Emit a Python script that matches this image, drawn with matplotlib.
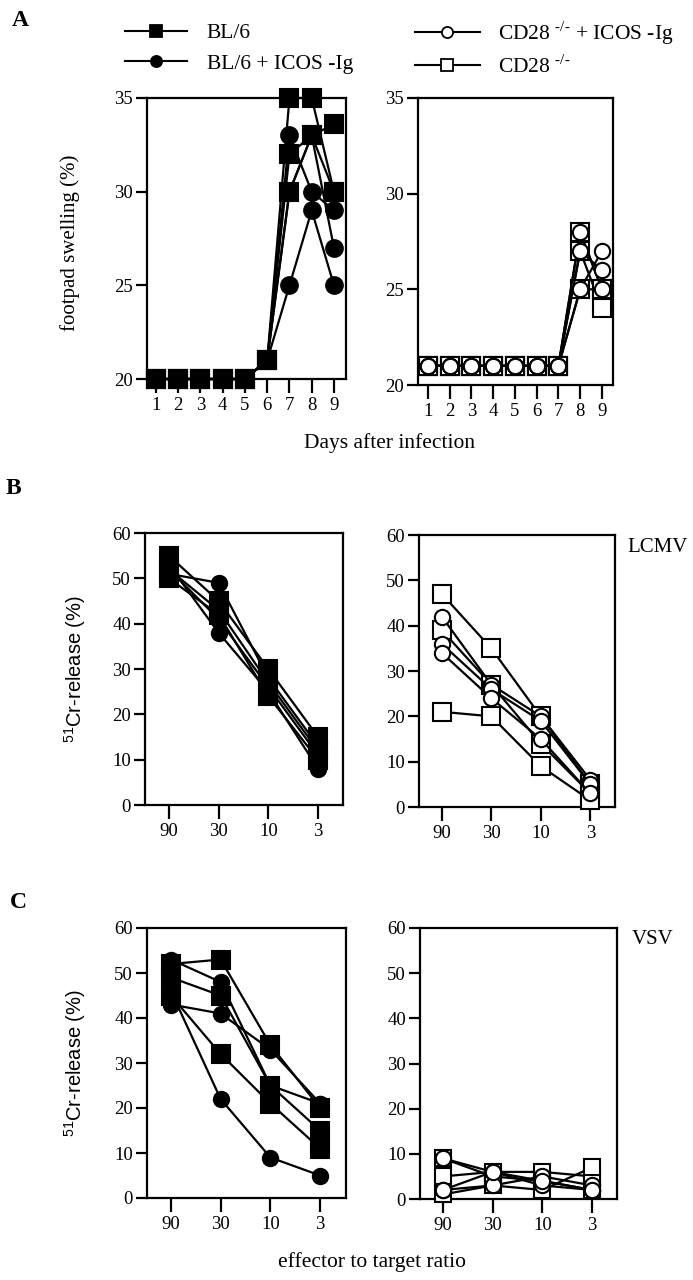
import matplotlib
matplotlib.use("Agg")
import matplotlib.pyplot as plt
from matplotlib.lines import Line2D

plt.rcParams['font.family'] = ['Liberation Serif', 'DejaVu Serif']
plt.rcParams['mathtext.fontset'] = 'custom'
plt.rcParams['mathtext.rm'] = 'Liberation Serif'
plt.rcParams['mathtext.sf'] = 'Liberation Sans'

# ---------------- data ----------------
days = [1, 2, 3, 4, 5, 6, 7, 8, 9]
# Panel A left: BL/6 (filled squares) and BL/6 + ICOS-Ig (filled circles)
a_bl6 = [
    [20, 20, 20, 20, 20, 21, 35, 35, 30],
    [20, 20, 20, 20, 20, 21, 32, 33, 33.6],
    [20, 20, 20, 20, 20, 21, 30, 33, 30],
]
a_bl6_icos = [
    [20, 20, 20, 20, 20, 21, 33, 30, 29],
    [20, 20, 20, 20, 20, 21, 25, 29, 25],
    [20, 20, 20, 20, 20, 21, 30, 33, 27],
]
# Panel A right: CD28-/- (open squares) and CD28-/- + ICOS-Ig (open circles)
a_cd28 = [
    [21, 21, 21, 21, 21, 21, 21, 28, 25],
    [21, 21, 21, 21, 21, 21, 21, 27, 24],
    [21, 21, 21, 21, 21, 21, 21, 25, 25],
]
a_cd28_icos = [
    [21, 21, 21, 21, 21, 21, 21, 28, 25],
    [21, 21, 21, 21, 21, 21, 21, 27, 26],
    [21, 21, 21, 21, 21, 21, 21, 25, 27],
]

ratio_labels = ['90', '30', '10', '3']
# Panel B (LCMV)
b_bl6 = [
    [55, 45, 30, 15],
    [52, 43, 27, 12],
    [50, 42, 24, 10],
]
b_bl6_icos = [
    [51, 49, 28, 13],
    [53, 38, 25, 8],
    [52, 41, 26, 11],
]
b_cd28 = [
    [47, 35, 20, 5],
    [39, 27, 14, 3],
    [21, 20, 9, 1.5],
]
b_cd28_icos = [
    [42, 27, 20, 6],
    [36, 26, 19, 5],
    [34, 24, 15, 3],
]
# Panel C (VSV)
c_bl6 = [
    [52, 53, 34, 20],
    [49, 45, 25, 15],
    [45, 32, 21, 11],
]
c_bl6_icos = [
    [53, 48, 25, 21],
    [43, 41, 33, 21],
    [46, 22, 9, 5],
]
c_cd28 = [
    [9, 5, 4, 2],
    [5, 6, 6, 5],
    [1, 3, 2, 7],
]
c_cd28_icos = [
    [9, 6, 3, 2],
    [2, 3, 5, 3],
    [2, 6, 4, 2],
]

legend_labels = ['BL/6', 'BL/6 + ICOS -Ig',
                 'CD28 $^{\\text{-/-}}$ + ICOS -Ig', 'CD28 $^{\\text{-/-}}$']

# ---------------- figure ----------------
W, H = 693, 1280
fig = plt.figure(figsize=(W / 100, H / 100), dpi=100)


def rect(x0, x1, ytop, ybot):
    return [x0 / W, 1 - ybot / H, (x1 - x0) / W, (ybot - ytop) / H]


LW = 1.6
TICK_FS = 13.5


def style(ax, xlim, ylim, yticks, xticks, xticklabels):
    ax.set_xlim(*xlim)
    ax.set_ylim(*ylim)
    ax.set_yticks(yticks)
    ax.set_xticks(xticks)
    ax.set_xticklabels(xticklabels)
    for s in ax.spines.values():
        s.set_linewidth(1.6)
    ax.tick_params(direction='out', length=8, width=1.6, labelsize=TICK_FS, pad=2)
    ax.tick_params(axis='x', length=10, pad=3)
    ax.tick_params(top=False, right=False)


def draw(ax, x, series, marker, filled, ms):
    for s in series:
        ax.plot(x, s, color='black', lw=LW, marker=marker, ms=ms,
                mfc='black' if filled else 'white', mec='black', mew=1.5,
                clip_on=False, zorder=3)


# Panel A left
axA1 = fig.add_axes(rect(147, 346, 98, 379))
draw(axA1, days, a_bl6_icos, 'o', True, 12)
draw(axA1, days, a_bl6, 's', True, 12.5)
style(axA1, (0.6, 9.54), (20, 35), [20, 25, 30, 35], days, [str(d) for d in days])

# Panel A right
axA2 = fig.add_axes(rect(418, 613, 98, 385))
draw(axA2, days, a_cd28, 's', False, 12.5)
draw(axA2, days, a_cd28_icos, 'o', False, 11)
style(axA2, (0.54, 9.51), (20, 35), [20, 25, 30, 35], days, [str(d) for d in days])

xr = list(range(len(ratio_labels)))

# Panel B left
axB1 = fig.add_axes(rect(145, 343, 533, 805))
draw(axB1, xr, b_bl6_icos, 'o', True, 11)
draw(axB1, xr, b_bl6, 's', True, 13)
style(axB1, (-0.48, 3.5), (0, 60), range(0, 61, 10), xr, ratio_labels)

# Panel B right
axB2 = fig.add_axes(rect(419, 615, 535, 807))
draw(axB2, xr, b_cd28, 's', False, 12.5)
draw(axB2, xr, b_cd28_icos, 'o', False, 11)
style(axB2, (-0.46, 3.5), (0, 60), range(0, 61, 10), xr, ratio_labels)

# Panel C left
axC1 = fig.add_axes(rect(147, 346, 928, 1198))
draw(axC1, xr, c_bl6_icos, 'o', True, 11)
draw(axC1, xr, c_bl6, 's', True, 12.5)
style(axC1, (-0.48, 3.52), (0, 60), range(0, 61, 10), xr, ratio_labels)

# Panel C right
axC2 = fig.add_axes(rect(420, 617, 928, 1199))
draw(axC2, xr, c_cd28, 's', False, 12)
draw(axC2, xr, c_cd28_icos, 'o', False, 11)
style(axC2, (-0.46, 3.5), (0, 60), range(0, 61, 10), xr, ratio_labels)

# Axis labels
fig.text(70 / W, 1 - 243 / H, 'footpad swelling (%)', rotation=90,
         ha='center', va='center', fontsize=15)
cr_label = '$^{\\mathsf{51}}$Cr-release (%)'
fig.text(75 / W, 1 - 669 / H, cr_label, rotation=90, ha='center', va='center',
         fontsize=14.5, family=['Liberation Sans', 'DejaVu Sans'])
fig.text(75 / W, 1 - 1063 / H, cr_label, rotation=90, ha='center', va='center',
         fontsize=14.5, family=['Liberation Sans', 'DejaVu Sans'])
fig.text(389 / W, 1 - 443 / H, 'Days after infection', ha='center', va='center',
         fontsize=15.5)
fig.text(372 / W, 1 - 1262 / H, 'effector to target ratio', ha='center',
         va='center', fontsize=15.5)

# Panel letters
fig.text(20 / W, 1 - 20 / H, 'A', ha='center', va='center', fontsize=17, weight='bold')
fig.text(13 / W, 1 - 488 / H, 'B', ha='center', va='center', fontsize=17, weight='bold')
fig.text(18 / W, 1 - 902 / H, 'C', ha='center', va='center', fontsize=17, weight='bold')

# Virus labels
fig.text(627 / W, 1 - 547 / H, 'LCMV', ha='left', va='center', fontsize=15)
fig.text(632 / W, 1 - 940 / H, 'VSV', ha='left', va='center', fontsize=15)


# Legends
def handle(marker, filled):
    return Line2D([], [], color='black', lw=1.5, marker=marker, ms=8,
                  mfc='black' if filled else 'white', mec='black', mew=1.3)


LEG_FS = 15.5
leg1 = fig.legend([handle('s', True), handle('o', True)], legend_labels[:2],
                  loc='upper left', bbox_to_anchor=(125 / W, 1 - 23 / H),
                  frameon=False, fontsize=LEG_FS, handlelength=2.9,
                  handletextpad=0.9, labelspacing=0.5, borderaxespad=0,
                  borderpad=0)
leg2 = fig.legend([handle('o', False), handle('s', False)], legend_labels[2:],
                  loc='upper left', bbox_to_anchor=(415 / W, 1 - 19 / H),
                  frameon=False, fontsize=LEG_FS, handlelength=3.0,
                  handletextpad=0.85, labelspacing=0.38, borderaxespad=0,
                  borderpad=0)

fig.savefig('out.png', dpi=100)
